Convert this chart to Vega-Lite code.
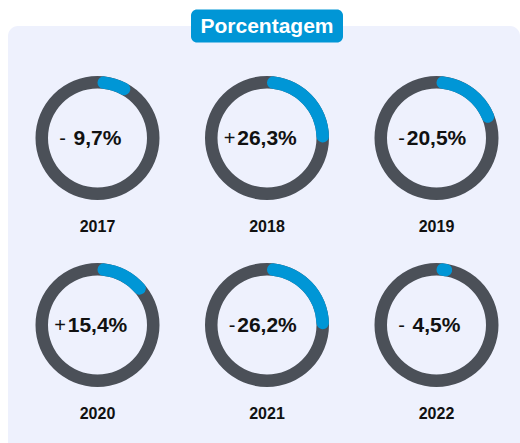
{
  "$schema": "https://vega.github.io/schema/vega-lite/v6.json",
  "width": 512,
  "height": 417,
  "autosize": {"type": "none"},
  "padding": {"left": 8, "top": 26, "right": 0, "bottom": 0},
  "background": "#ffffff",
  "config": {
    "view": {"stroke": null},
    "locale": {"number": {"decimal": ",", "thousands": ".", "grouping": [3], "currency": ["R$", ""]}},
    "text": {"font": "Liberation Sans"}
  },
  "layer": [
    {
      "data": {"values": [{"painel": "fundo"}]},
      "mark": {"type": "rect", "fill": "#EEF1FD", "cornerRadiusTopLeft": 10, "cornerRadiusTopRight": 10},
      "encoding": {}
    },
    {
      "data": {
        "values": [
          {"ano": 2017, "variacao": -0.097},
          {"ano": 2018, "variacao": 0.263},
          {"ano": 2019, "variacao": -0.205},
          {"ano": 2020, "variacao": 0.154},
          {"ano": 2021, "variacao": -0.262},
          {"ano": 2022, "variacao": -0.045}
        ]
      },
      "transform": [
        {"calculate": "(datum.ano - 2017) % 3", "as": "coluna"},
        {"calculate": "floor((datum.ano - 2017) / 3)", "as": "linha"},
        {"calculate": "abs(datum.variacao)", "as": "magnitude"},
        {"calculate": "datum.variacao < 0 ? '-' : '+'", "as": "sinal"}
      ],
      "encoding": {
        "x": {"field": "coluna", "type": "quantitative", "scale": {"domain": [0, 2], "range": [89.5, 428.5]}, "axis": null},
        "y": {"field": "linha", "type": "quantitative", "scale": {"domain": [0, 1], "range": [112, 299]}, "axis": null}
      },
      "layer": [
        {
          "mark": {"type": "arc", "theta": 0, "theta2": 6.2832, "innerRadius": 49.5, "outerRadius": 62, "fill": "#4B5058"}
        },
        {
          "mark": {"type": "arc", "innerRadius": 49.5, "outerRadius": 62, "cornerRadius": 6.2, "fill": "#0096D6"},
          "encoding": {
            "theta": {"field": "magnitude", "type": "quantitative", "stack": null, "scale": {"domain": [0, 1], "range": [0, 6.2832]}},
            "theta2": {"datum": 0}
          }
        },
        {
          "mark": {"type": "text", "fontSize": 21, "fontWeight": "bold", "align": "center", "baseline": "middle", "color": "#111111", "dy": 1},
          "encoding": {"text": {"field": "magnitude", "type": "quantitative", "format": ".1%"}}
        },
        {
          "mark": {"type": "text", "fontSize": 20, "fontWeight": "normal", "align": "right", "baseline": "middle", "color": "#111111", "dx": -31.5, "dy": 1},
          "encoding": {"text": {"field": "sinal", "type": "nominal"}}
        },
        {
          "mark": {"type": "text", "fontSize": 16, "fontWeight": "bold", "align": "center", "baseline": "middle", "color": "#111111", "dy": 89},
          "encoding": {"text": {"field": "ano", "type": "nominal"}}
        }
      ]
    },
    {
      "data": {"values": [{"titulo": "Porcentagem"}]},
      "encoding": {
        "x": {"datum": 1, "type": "quantitative"},
        "y": {"value": 0}
      },
      "layer": [
        {
          "mark": {"type": "rect", "width": 152, "height": 33, "align": "center", "baseline": "middle", "cornerRadius": 6, "fill": "#0096D6"}
        },
        {
          "mark": {"type": "text", "fontSize": 21, "fontWeight": "bold", "align": "center", "baseline": "middle", "color": "#ffffff", "dy": 1},
          "encoding": {"text": {"field": "titulo", "type": "nominal"}}
        }
      ]
    }
  ]
}
